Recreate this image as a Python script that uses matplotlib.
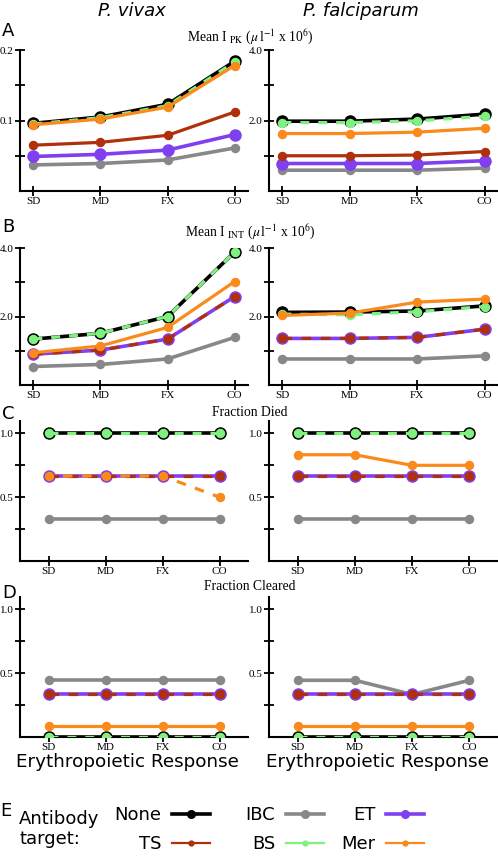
import matplotlib
matplotlib.use("Agg")
import matplotlib.pyplot as plt
from matplotlib.lines import Line2D

plt.rcParams['mathtext.fontset'] = 'stix'

# x categories (erythropoietic response)
categories = ['SD', 'MD', 'FX', 'CO']
species = ['P. vivax', 'P. falciparum']
targets = ['None', 'IBC', 'ET', 'TS', 'BS', 'Mer']

# Panel A: Mean I_PK
pk_vivax_none = [0.096, 0.105, 0.123, 0.184]
pk_vivax_ibc = [0.037, 0.039, 0.044, 0.061]
pk_vivax_et = [0.049, 0.052, 0.058, 0.080]
pk_vivax_ts = [0.065, 0.069, 0.079, 0.112]
pk_vivax_bs = [0.095, 0.104, 0.121, 0.183]
pk_vivax_mer = [0.094, 0.102, 0.119, 0.178]

pk_falc_none = [1.98, 1.98, 2.04, 2.18]
pk_falc_ibc = [0.59, 0.59, 0.59, 0.65]
pk_falc_et = [0.78, 0.78, 0.78, 0.86]
pk_falc_ts = [1.00, 1.00, 1.02, 1.12]
pk_falc_bs = [1.94, 1.94, 1.99, 2.12]
pk_falc_mer = [1.63, 1.63, 1.67, 1.78]

# Panel B: Mean I_INT
int_vivax_none = [1.34, 1.51, 2.00, 3.88]
int_vivax_ibc = [0.54, 0.60, 0.76, 1.39]
int_vivax_et = [0.90, 1.02, 1.34, 2.58]
int_vivax_ts = [0.90, 1.02, 1.34, 2.58]
int_vivax_bs = [1.34, 1.51, 2.00, 3.88]
int_vivax_mer = [0.94, 1.14, 1.68, 3.02]

int_falc_none = [2.12, 2.13, 2.16, 2.31]
int_falc_ibc = [0.76, 0.76, 0.76, 0.85]
int_falc_et = [1.36, 1.36, 1.39, 1.63]
int_falc_ts = [1.36, 1.36, 1.39, 1.63]
int_falc_bs = [2.07, 2.05, 2.14, 2.29]
int_falc_mer = [2.03, 2.10, 2.42, 2.51]

# Panel C: fraction died
died_vivax_none = [1.0, 1.0, 1.0, 1.0]
died_vivax_ibc = [0.333, 0.333, 0.333, 0.333]
died_vivax_et = [0.667, 0.667, 0.667, 0.667]
died_vivax_ts = [0.667, 0.667, 0.667, 0.667]
died_vivax_bs = [1.0, 1.0, 1.0, 1.0]
died_vivax_mer = [0.667, 0.667, 0.667, 0.5]

died_falc_none = [1.0, 1.0, 1.0, 1.0]
died_falc_ibc = [0.333, 0.333, 0.333, 0.333]
died_falc_et = [0.667, 0.667, 0.667, 0.667]
died_falc_ts = [0.667, 0.667, 0.667, 0.667]
died_falc_bs = [1.0, 1.0, 1.0, 1.0]
died_falc_mer = [0.833, 0.833, 0.75, 0.75]

# Panel D: fraction cleared
clear_vivax_none = [0.0, 0.0, 0.0, 0.0]
clear_vivax_ibc = [0.444, 0.444, 0.444, 0.444]
clear_vivax_et = [0.333, 0.333, 0.333, 0.333]
clear_vivax_ts = [0.333, 0.333, 0.333, 0.333]
clear_vivax_bs = [0.0, 0.0, 0.0, 0.0]
clear_vivax_mer = [0.083, 0.083, 0.083, 0.083]

clear_falc_none = [0.0, 0.0, 0.0, 0.0]
clear_falc_ibc = [0.444, 0.444, 0.333, 0.444]
clear_falc_et = [0.333, 0.333, 0.333, 0.333]
clear_falc_ts = [0.333, 0.333, 0.333, 0.333]
clear_falc_bs = [0.0, 0.0, 0.0, 0.0]
clear_falc_mer = [0.083, 0.083, 0.083, 0.083]

panels = {
    'A': [[pk_vivax_none, pk_vivax_ibc, pk_vivax_et, pk_vivax_ts, pk_vivax_bs, pk_vivax_mer],
          [pk_falc_none, pk_falc_ibc, pk_falc_et, pk_falc_ts, pk_falc_bs, pk_falc_mer]],
    'B': [[int_vivax_none, int_vivax_ibc, int_vivax_et, int_vivax_ts, int_vivax_bs, int_vivax_mer],
          [int_falc_none, int_falc_ibc, int_falc_et, int_falc_ts, int_falc_bs, int_falc_mer]],
    'C': [[died_vivax_none, died_vivax_ibc, died_vivax_et, died_vivax_ts, died_vivax_bs, died_vivax_mer],
          [died_falc_none, died_falc_ibc, died_falc_et, died_falc_ts, died_falc_bs, died_falc_mer]],
    'D': [[clear_vivax_none, clear_vivax_ibc, clear_vivax_et, clear_vivax_ts, clear_vivax_bs, clear_vivax_mer],
          [clear_falc_none, clear_falc_ibc, clear_falc_et, clear_falc_ts, clear_falc_bs, clear_falc_mer]],
}

panel_titles = {
    'A': r'Mean I $_{\rm PK}$ ($\mu\,$l$^{-1}$ x 10$^6$)',
    'B': r'Mean I $_{\rm INT}$ ($\mu\,$l$^{-1}$ x 10$^6$)',
    'C': 'Fraction Died',
    'D': 'Fraction Cleared',
}

colors = {'None': '#000000', 'IBC': '#888888', 'ET': '#8040f0',
          'TS': '#b0300c', 'BS': '#80f080', 'Mer': '#fb8a1c'}

W, H = 498.0, 856.0
fig = plt.figure(figsize=(W / 100, H / 100), dpi=100)


def rect(left, top, right, bottom):
    return [left / W, 1 - bottom / H, (right - left) / W, (bottom - top) / H]


row_px = {'A': (50, 191), 'B': (248, 385), 'C': (420.7, 561), 'D': (596.5, 737)}
col_px = [(20, 248), (269, 498)]
title_y = {'A': 37, 'B': 232, 'C': 413, 'D': 587}
letter_y = {'A': 31, 'B': 227, 'C': 414, 'D': 593}

serif = 'Liberation Serif'
x = list(range(len(categories)))

for key, (top, bottom) in row_px.items():
    for ci, (left, right) in enumerate(col_px):
        ax = fig.add_axes(rect(left, top, right, bottom))
        none, ibc, et, ts, bs, mer = panels[key][ci]

        ts_ls = '-' if key == 'A' else (0, (3, 3))
        mer_ls = (1.5, (3, 3)) if (key == 'C' and ci == 0) else '-'

        ax.plot(x, none, '-o', color=colors['None'], lw=2.6, ms=8, zorder=2)
        ax.plot(x, ibc, '-o', color=colors['IBC'], lw=2.6, ms=5.8, zorder=2)
        ax.plot(x, et, '-o', color=colors['ET'], lw=2.6, ms=8, zorder=2)
        ax.plot(x, ts, marker='o', ls=ts_ls, color=colors['TS'], lw=2.3, ms=5.8, zorder=3)
        ax.plot(x, bs, marker='o', ls=(0, (2.8, 2.8)), color=colors['BS'], lw=2.3, ms=5.8, zorder=3)
        ax.plot(x, mer, marker='o', ls=mer_ls, color=colors['Mer'], lw=2.3, ms=5.8, zorder=3)

        if key in ('A', 'B'):
            ax.set_xlim(-0.2, 3.2)
        else:
            ax.set_xlim(-0.5, 3.5)

        if key == 'A' and ci == 0:
            ax.set_ylim(0, 0.2)
            ax.set_yticks([0.05, 0.1, 0.15, 0.2])
            ax.set_yticklabels(['', '0.1', '', '0.2'])
        elif key in ('A', 'B'):
            ax.set_ylim(0, 4.0)
            ax.set_yticks([1, 2, 3, 4])
            ax.set_yticklabels(['', '2.0', '', '4.0'])
        else:
            ax.set_ylim(0, 1.1)
            ax.set_yticks([0.25, 0.5, 0.75, 1.0])
            ax.set_yticklabels(['', '0.5', '', '1.0'])

        ax.set_xticks(x)
        ax.set_xticklabels(categories)
        for lab in ax.get_xticklabels() + ax.get_yticklabels():
            lab.set_fontfamily(serif)
            lab.set_fontsize(8)
        ax.tick_params(direction='inout', length=7, width=1.3, pad=1)
        for s in ['top', 'right']:
            ax.spines[s].set_visible(False)
        for s in ['left', 'bottom']:
            ax.spines[s].set_linewidth(1.5)
        ax.patch.set_alpha(0)

    fig.text(250 / W, 1 - title_y[key] / H, panel_titles[key], family=serif,
             fontsize=9.8, ha='center', va='center')
    fig.text(2 / W, 1 - letter_y[key] / H, key, fontsize=13, ha='left', va='center')

fig.text(132 / W, 1 - 11 / H, species[0], fontsize=13, style='italic', ha='center', va='center')
fig.text(361 / W, 1 - 11 / H, species[1], fontsize=13, style='italic', ha='center', va='center')

fig.text(127 / W, 1 - 762 / H, 'Erythropoietic Response', fontsize=13.2, ha='center', va='center')
fig.text(377 / W, 1 - 762 / H, 'Erythropoietic Response', fontsize=13.2, ha='center', va='center')

# legend: three columns, text right-aligned against the handle
fig.text(0 / W, 1 - 811 / H, 'E', fontsize=13, ha='left', va='center')
fig.text(19 / W, 1 - 829 / H, 'Antibody\ntarget:', fontsize=13, ha='left', va='center',
         linespacing=1.2)

thick = ['None', 'IBC', 'ET']
handles = {}
for t in targets:
    if t in thick:
        handles[t] = Line2D([], [], color=colors[t], lw=2.6, marker='o', ms=5.5)
    else:
        handles[t] = Line2D([], [], color=colors[t], lw=1.6, marker='o', ms=3.5)

legend_cols = [(['None', 'TS'], 210), (['IBC', 'BS'], 324), (['ET', 'Mer'], 424)]
for labels, right_px in legend_cols:
    fig.legend([handles[t] for t in labels], labels, ncol=1,
               loc='upper right', bbox_to_anchor=(right_px / W, 1 - 806 / H),
               markerfirst=False, frameon=False, fontsize=13, handlelength=2.1,
               handletextpad=0.6, labelspacing=0.6,
               borderpad=0, borderaxespad=0)

fig.savefig('out.png', dpi=100)
